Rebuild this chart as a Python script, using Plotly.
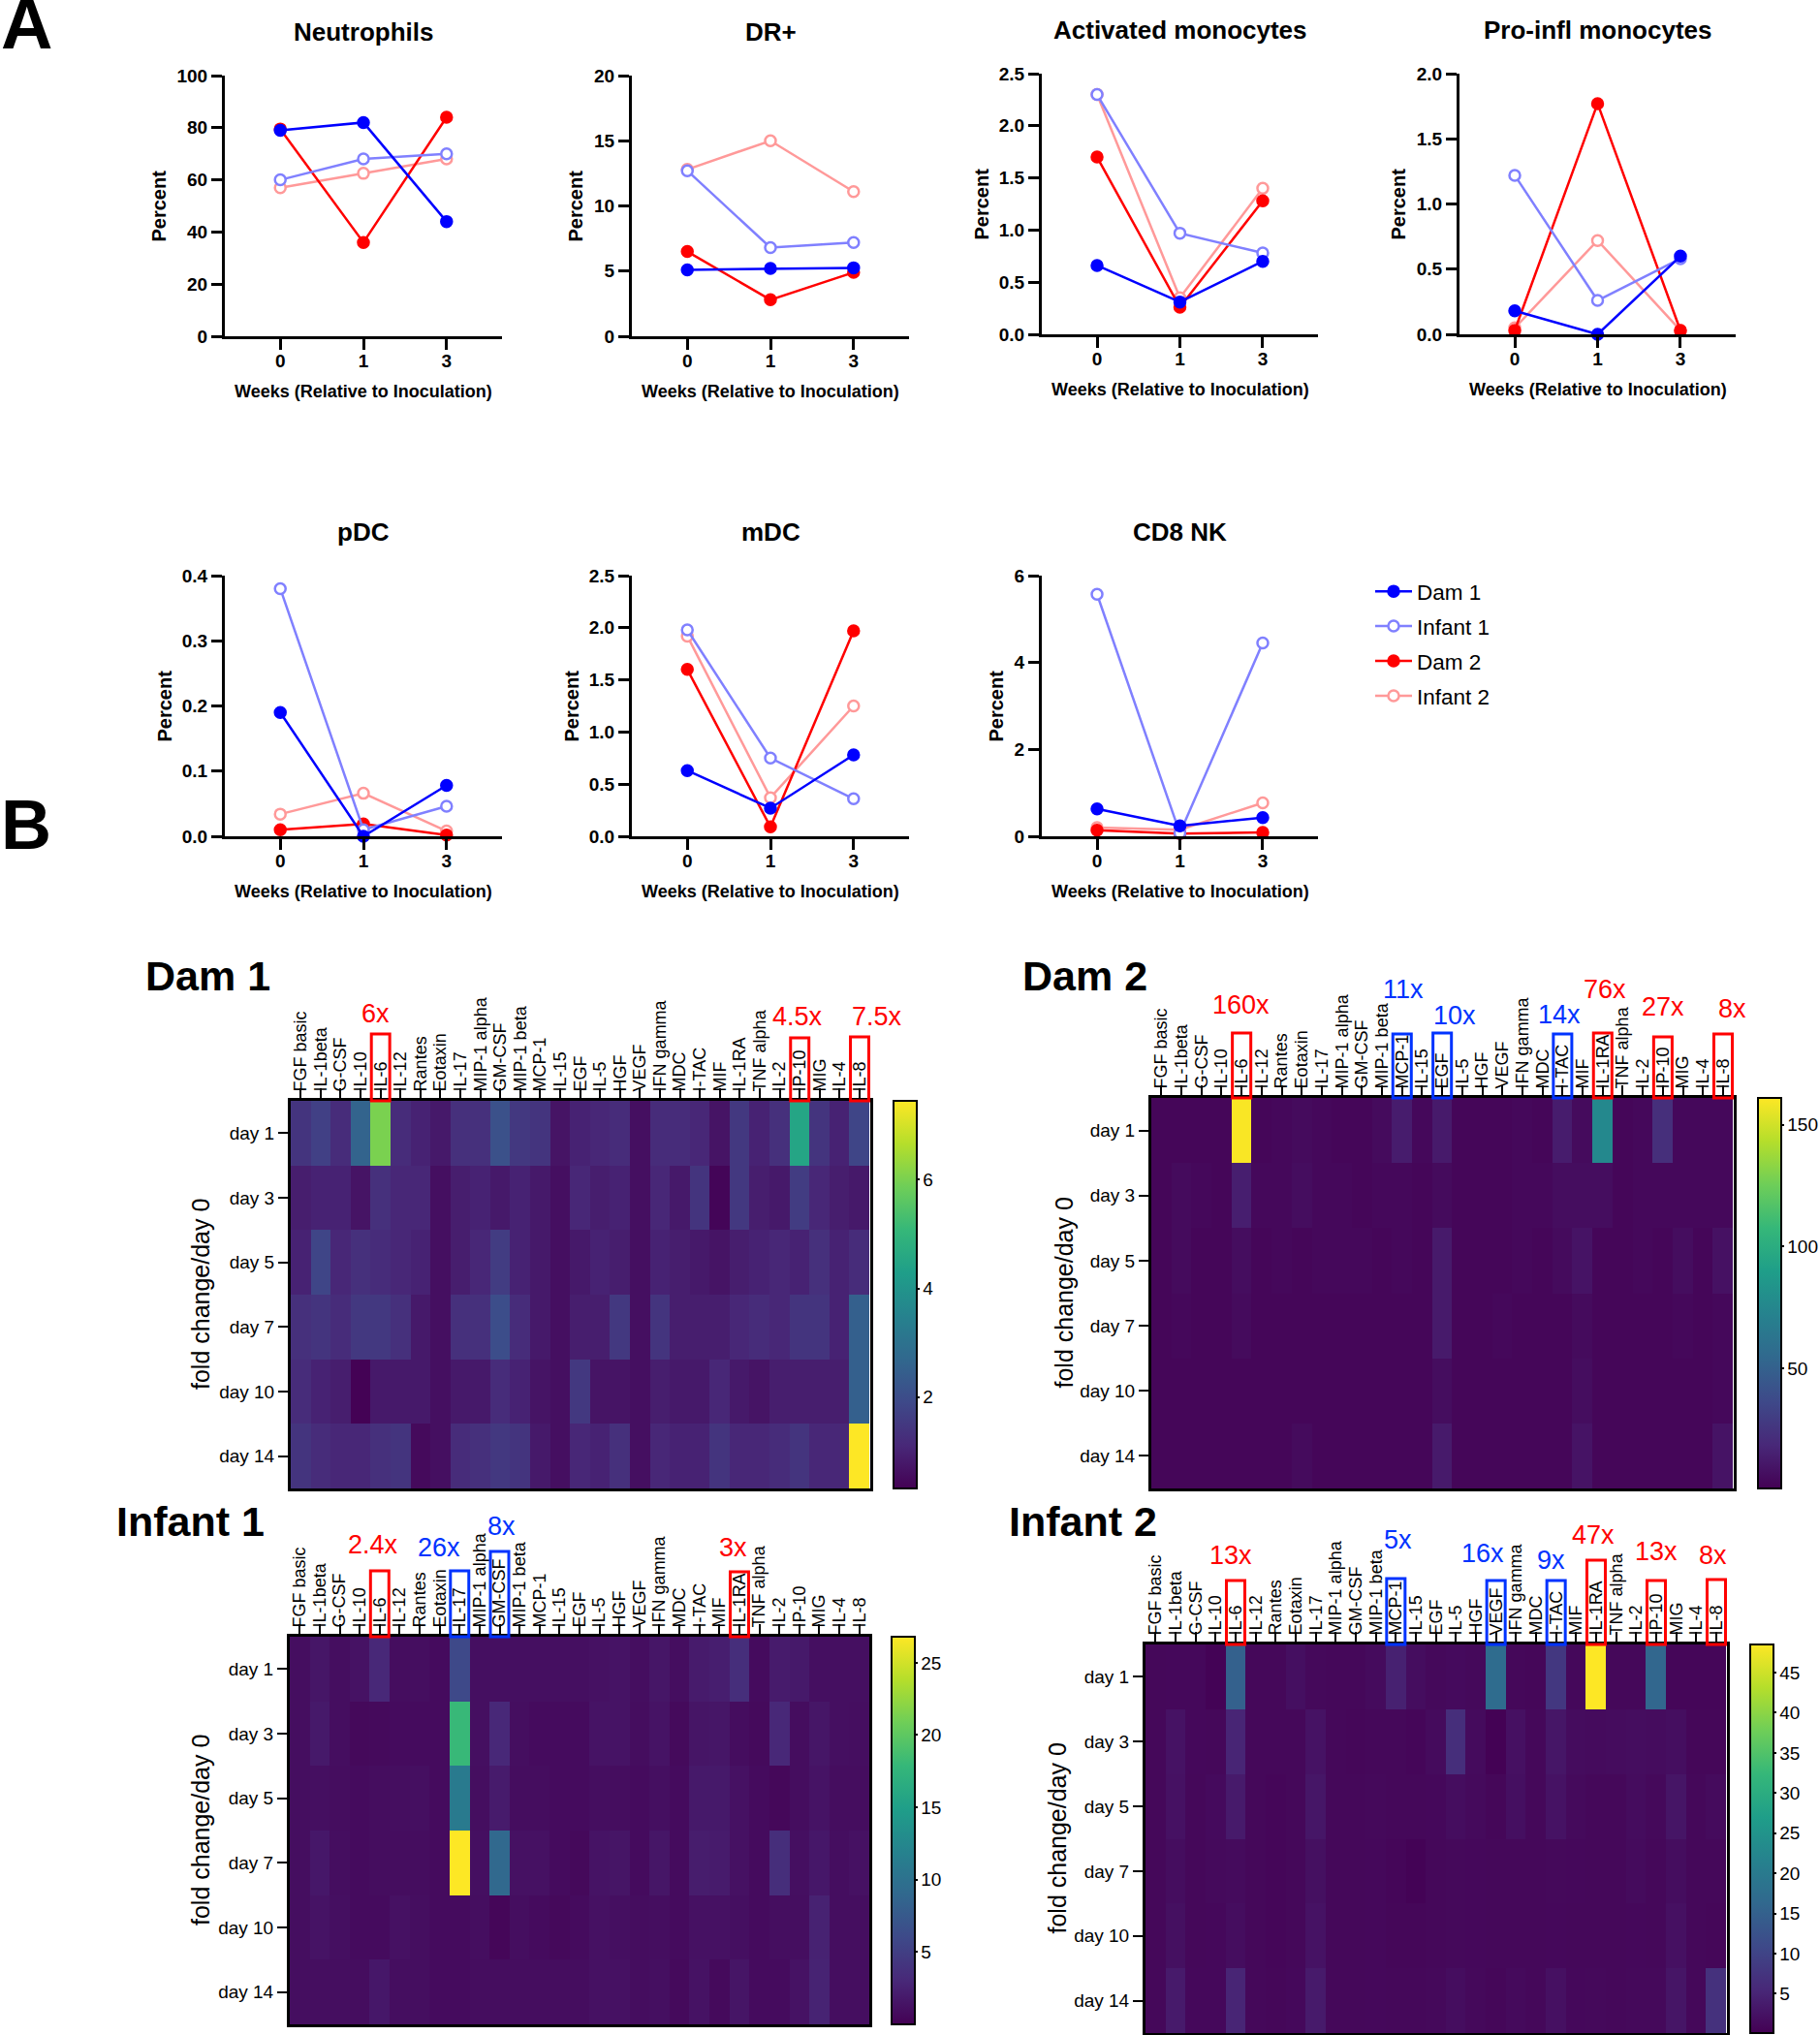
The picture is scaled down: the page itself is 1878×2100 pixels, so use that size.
import plotly.graph_objects as go

W, H = 1878, 2100
FONT = "Liberation Sans"

WEEKS = ["0", "1", "3"]
SERIES = ["Infant 2", "Dam 2", "Infant 1", "Dam 1"]  # drawn back to front
LEGEND_ORDER = ["Dam 1", "Infant 1", "Dam 2", "Infant 2"]
SERIES_COLORS = {"Dam 1": "#0000ff", "Infant 1": "#8080ff", "Dam 2": "#ff0000", "Infant 2": "#ff9999"}

neutrophils = {"Dam 1": [79, 82, 44], "Infant 1": [60, 68, 70], "Dam 2": [79.5, 36, 84], "Infant 2": [57, 62.5, 68]}
dr_plus = {"Dam 1": [5.1, 5.2, 5.25], "Infant 1": [12.7, 6.8, 7.2], "Dam 2": [6.5, 2.8, 4.9], "Infant 2": [12.8, 15, 11.1]}
activated_mono = {"Dam 1": [0.66, 0.31, 0.70], "Infant 1": [2.3, 0.97, 0.78], "Dam 2": [1.7, 0.26, 1.28], "Infant 2": [2.3, 0.35, 1.4]}
proinfl_mono = {"Dam 1": [0.18, 0.0, 0.6], "Infant 1": [1.22, 0.26, 0.58], "Dam 2": [0.03, 1.77, 0.03], "Infant 2": [0.05, 0.72, 0.03]}
pdc = {"Dam 1": [0.19, 0.0, 0.078], "Infant 1": [0.38, 0.01, 0.046], "Dam 2": [0.01, 0.019, 0.002], "Infant 2": [0.034, 0.066, 0.008]}
mdc = {"Dam 1": [0.63, 0.27, 0.78], "Infant 1": [1.98, 0.75, 0.36], "Dam 2": [1.6, 0.09, 1.97], "Infant 2": [1.92, 0.37, 1.25]}
cd8_nk = {"Dam 1": [0.63, 0.24, 0.43], "Infant 1": [5.57, 0.07, 4.45], "Dam 2": [0.14, 0.06, 0.09], "Infant 2": [0.2, 0.15, 0.77]}

CYTOKINES = ["FGF basic", "IL-1beta", "G-CSF", "IL-10", "IL-6", "IL-12", "Rantes", "Eotaxin", "IL-17",
             "MIP-1 alpha", "GM-CSF", "MIP-1 beta", "MCP-1", "IL-15", "EGF", "IL-5", "HGF", "VEGF",
             "IFN gamma", "MDC", "I-TAC", "MIF", "IL-1RA", "TNF alpha", "IL-2", "IP-10", "MIG", "IL-4", "IL-8"]
DAYS = ["day 1", "day 3", "day 5", "day 7", "day 10", "day 14"]

dam1_z = [
    [1.4, 1.7, 1.2, 2.6, 6.0, 1.2, 1.0, 0.8, 1.3, 1.3, 2.1, 1.5, 1.4, 0.7, 1.0, 1.1, 1.2, 0.6, 1.2, 1.2, 1.1, 0.7, 1.5, 1.0, 1.3, 4.5, 1.4, 1.0, 1.8],
    [0.9, 1.0, 1.0, 0.7, 1.3, 1.1, 1.1, 0.6, 0.9, 1.0, 0.8, 1.0, 0.8, 0.6, 1.1, 0.9, 1.0, 0.6, 1.1, 0.8, 1.4, 0.4, 1.5, 0.9, 0.8, 1.6, 1.1, 0.9, 0.8],
    [1.0, 1.8, 1.1, 1.3, 1.2, 1.1, 1.0, 0.6, 0.9, 1.1, 1.6, 1.0, 0.8, 0.6, 0.8, 1.0, 0.9, 0.6, 1.0, 0.9, 0.8, 0.7, 0.9, 1.0, 1.1, 1.0, 1.3, 1.0, 1.2],
    [1.3, 1.4, 1.2, 1.5, 1.5, 1.3, 0.8, 0.6, 1.3, 1.3, 2.0, 1.2, 0.8, 0.6, 0.9, 0.9, 1.5, 0.6, 1.4, 0.9, 0.9, 0.9, 1.1, 1.2, 1.1, 1.4, 1.4, 1.0, 2.5],
    [1.2, 1.0, 0.9, 0.35, 0.8, 0.8, 0.8, 0.6, 0.8, 0.8, 1.2, 1.0, 0.7, 0.6, 1.5, 0.7, 0.7, 0.6, 0.9, 0.8, 0.8, 1.1, 0.8, 0.7, 0.9, 0.9, 0.9, 0.9, 2.5],
    [1.4, 1.2, 1.1, 1.1, 1.3, 1.4, 0.5, 0.6, 1.2, 1.3, 1.5, 1.4, 0.8, 0.6, 1.1, 1.0, 1.3, 0.6, 1.1, 1.0, 1.0, 1.4, 1.1, 1.1, 1.2, 1.4, 1.1, 1.1, 7.45],
]
dam2_z = [
    [3, 3, 3, 3, 160, 3, 4, 5, 4, 3, 3, 5, 13, 4, 12, 3, 3, 3, 4, 3, 13, 5, 76, 3, 4, 22, 4, 4, 4],
    [3, 5, 4, 3, 14, 4, 4, 6, 4, 4, 3, 4, 4, 3, 5, 3, 3, 3, 4, 4, 6, 6, 6, 3, 4, 4, 4, 4, 4],
    [3, 5, 3, 3, 6, 3, 4, 3, 4, 4, 4, 3, 4, 3, 12, 3, 3, 3, 4, 3, 5, 9, 3, 3, 4, 3, 6, 3, 8],
    [3, 4, 3, 3, 5, 3, 3, 3, 3, 3, 3, 3, 3, 3, 12, 3, 3, 4, 3, 3, 3, 5, 3, 3, 3, 3, 4, 3, 4],
    [3, 3, 3, 3, 3, 3, 3, 3, 3, 3, 3, 3, 3, 3, 6, 3, 3, 3, 3, 3, 3, 6, 3, 3, 3, 3, 3, 3, 4],
    [3, 3, 3, 3, 3, 3, 3, 5, 3, 3, 3, 3, 3, 3, 12, 3, 3, 3, 3, 3, 3, 9, 3, 3, 3, 3, 3, 3, 9],
]
infant1_z = [
    [1, 1.6, 1, 1.3, 3, 0.9, 1, 0.8, 6, 1.1, 1.1, 1.1, 1.1, 1.1, 1.1, 1.2, 1.4, 1, 1.6, 1, 2, 2.2, 3.5, 0.8, 2, 1.8, 1.1, 1.1, 1.1],
    [1, 1.8, 1, 0.6, 0.7, 0.8, 0.8, 0.8, 18, 1.1, 3, 1, 0.8, 0.8, 0.8, 1.4, 1.4, 0.9, 1.4, 0.7, 1.5, 1.6, 0.9, 0.7, 3, 0.9, 1.6, 1.1, 1],
    [1, 1.1, 0.9, 0.8, 0.9, 1, 1.1, 0.8, 11, 1, 2, 0.9, 0.9, 0.8, 0.8, 1, 0.9, 0.8, 1.1, 0.8, 1.8, 1.8, 1.2, 0.8, 0.5, 0.9, 1.4, 0.9, 0.9],
    [1, 1.7, 1, 0.8, 0.9, 0.9, 0.9, 0.8, 26.8, 1.1, 9, 1.2, 1.2, 0.8, 0.6, 1.4, 1.5, 0.8, 1.6, 0.8, 2.1, 2, 1.2, 0.8, 3.5, 1.1, 1.7, 1, 1.2],
    [1, 1.4, 1.1, 0.8, 0.8, 1.2, 1, 0.8, 0.8, 1, 0.4, 1, 0.8, 0.6, 0.8, 1.2, 1.1, 0.9, 1, 0.8, 1.2, 1.2, 1.1, 0.8, 1, 1, 2.5, 1, 1],
    [1, 1, 1, 0.9, 1.7, 1, 1, 0.8, 0.8, 0.9, 0.9, 0.9, 0.9, 0.9, 0.9, 1.2, 1.2, 0.9, 1.1, 0.7, 1.3, 0.7, 1.5, 0.8, 0.8, 1.3, 2.6, 1, 1],
]
infant2_z = [
    [1, 1.1, 1.1, 0.4, 15, 1, 1, 2, 1.2, 1, 1, 1.5, 4.5, 1.8, 1.2, 1.4, 1.2, 17, 1, 0.9, 8, 1.1, 48.5, 1, 1, 16, 0.8, 0.8, 0.8],
    [1, 2.5, 1.1, 1, 5, 1, 1, 1, 2.5, 1, 0.9, 1, 1, 0.8, 1.5, 6.5, 1.5, 0.3, 2.2, 1, 3, 1.6, 1.5, 1.6, 1.8, 1.6, 1.9, 0.9, 0.9],
    [1, 2.3, 1, 1.4, 3.5, 1, 0.8, 1, 3, 1, 1, 1.2, 1, 1, 1.1, 1.8, 1.3, 0.9, 2, 1, 2.5, 1.3, 1, 1, 1.6, 1.2, 2.8, 1, 1.5],
    [1, 1.8, 1, 1.3, 1.5, 1, 0.8, 1, 2.1, 1, 1, 1.1, 0.8, 0.4, 1, 1.2, 1.1, 1, 1, 1, 1.2, 1.1, 1, 1, 1.5, 1, 1.8, 1, 1],
    [1, 2.1, 1, 1.1, 1.8, 1, 0.8, 1, 2.5, 1, 1, 1.1, 0.9, 0.9, 1, 1.2, 1.1, 1, 1, 1, 1.1, 1, 1, 1, 1.1, 1, 2.2, 1, 0.9],
    [1, 3.6, 1.1, 1.1, 5, 1, 0.9, 1.1, 3.6, 1, 1, 1.1, 1, 1, 1.2, 1.8, 1.2, 0.9, 1.3, 1, 2.2, 1.1, 1.2, 1, 1.2, 1.2, 2.8, 1, 7],
]

# title, data, y max, y ticks, tick format, axis box in px (left, right, top, bottom), title y, Percent x
LINE_PANELS = [
    ("Neutrophils", neutrophils, 100, [0, 20, 40, 60, 80, 100], "d", (232, 518, 78, 347), 33, 164),
    ("DR+", dr_plus, 20, [0, 5, 10, 15, 20], "d", (652, 938, 78, 347), 33, 594),
    ("Activated monocytes", activated_mono, 2.5, [0, 0.5, 1, 1.5, 2, 2.5], ".1f", (1075, 1360, 76, 345), 31, 1012),
    ("Pro-infl monocytes", proinfl_mono, 2, [0, 0.5, 1, 1.5, 2], ".1f", (1506, 1791, 76, 345), 31, 1442),
    ("pDC", pdc, 0.4, [0, 0.1, 0.2, 0.3, 0.4], ".1f", (232, 518, 594, 863), 549, 170),
    ("mDC", mdc, 2.5, [0, 0.5, 1, 1.5, 2, 2.5], ".1f", (652, 938, 594, 863), 549, 590),
    ("CD8 NK", cd8_nk, 6, [0, 2, 4, 6], "d", (1075, 1360, 594, 863), 549, 1028),
]

# title, z, min, max, colorbar ticks, plot box px, colorbar left px, title pos, fold label x
HEAT_PANELS = [
    ("Dam 1", dam1_z, 0.32, 7.45, [2, 4, 6], (300, 898, 1136, 1536), 922, (214, 1007), 207),
    ("Dam 2", dam2_z, 0.6, 161, [50, 100, 150], (1188, 1789, 1133, 1536), 1814, (1119, 1007), 1097),
    ("Infant 1", infant1_z, 0, 26.8, [5, 10, 15, 20, 25], (299, 897, 1689, 2089), 920, (196, 1570), 207),
    ("Infant 2", infant2_z, 0.1, 48.5, [5, 10, 15, 20, 25, 30, 35, 40, 45], (1182, 1782, 1697, 2098), 1806, (1117, 1570), 1090),
]

RED, BLUE = "#ff0000", "#0033ff"
# cytokine, colour, box top px, label, label x px, label y px
CALLOUTS = {
    "Dam 1": [("IL-6", RED, 1067, "6x", 387, 1046), ("IP-10", RED, 1071, "4.5x", 823, 1049), ("IL-8", RED, 1070, "7.5x", 905, 1049)],
    "Dam 2": [("IL-6", RED, 1066, "160x", 1280, 1037), ("MCP-1", BLUE, 1067, "11x", 1448, 1021), ("EGF", BLUE, 1066, "10x", 1501, 1048),
              ("I-TAC", BLUE, 1067, "14x", 1609, 1047), ("IL-1RA", RED, 1066, "76x", 1656, 1021), ("IP-10", RED, 1070, "27x", 1716, 1039),
              ("IL-8", RED, 1067, "8x", 1787, 1041)],
    "Infant 1": [("IL-6", RED, 1621, "2.4x", 385, 1594), ("IL-17", BLUE, 1621, "26x", 453, 1597), ("GM-CSF", BLUE, 1601, "8x", 517, 1575),
                 ("IL-1RA", RED, 1622, "3x", 756, 1597)],
    "Infant 2": [("IL-6", RED, 1631, "13x", 1270, 1605), ("MCP-1", BLUE, 1629, "5x", 1442, 1589), ("VEGF", BLUE, 1631, "16x", 1530, 1603),
                 ("I-TAC", BLUE, 1631, "9x", 1600, 1610), ("IL-1RA", RED, 1610, "47x", 1644, 1584), ("IP-10", RED, 1631, "13x", 1709, 1601),
                 ("IL-8", RED, 1630, "8x", 1767, 1605)],
}


def fx(px):
    return px / W


def fy(px):
    return 1 - px / H


def text(x, y, s, size, bold=False, color="black", angle=0, xref="paper"):
    return dict(x=x, y=fy(y), xref=xref, yref="paper", text=s, showarrow=False, textangle=angle,
                xanchor="center", yanchor="middle",
                font=dict(family=FONT, size=size, color=color, weight=700 if bold else 400))


fig = go.Figure()
annotations = []
shapes = []
layout = {}
n = 0

for title, data, ymax, yticks, fmt, (l, r, t, b), title_y, percent_x in LINE_PANELS:
    n += 1
    xa, ya = f"x{n}", f"y{n}"
    for name in SERIES:
        filled = name.startswith("Dam")
        c = SERIES_COLORS[name]
        fig.add_trace(go.Scatter(
            x=WEEKS, y=data[name], xaxis=xa, yaxis=ya, mode="lines+markers", name=name,
            legendgroup=name, legendrank=LEGEND_ORDER.index(name) + 1,
            showlegend=title == "CD8 NK", cliponaxis=False,
            line=dict(color=c, width=2.5),
            marker=dict(size=11, color=c if filled else "white", line=dict(color=c, width=2.5)),
        ))
    layout[f"xaxis{n}"] = dict(domain=[fx(l), fx(r)], anchor=ya, type="category", range=[-0.667, 2.667],
                               showline=True, linecolor="black", linewidth=3, showgrid=False, zeroline=False,
                               ticks="outside", ticklen=11, tickwidth=2.5, tickcolor="black", ticklabelstandoff=-5,
                               tickfont=dict(family=FONT, size=19, weight=700))
    layout[f"yaxis{n}"] = dict(domain=[fy(b), fy(t)], anchor=xa, range=[0, ymax], tickvals=yticks, tickformat=fmt,
                               showline=True, linecolor="black", linewidth=3, showgrid=False, zeroline=False,
                               ticks="outside", ticklen=11, tickwidth=2.5, tickcolor="black",
                               tickfont=dict(family=FONT, size=19, weight=700))
    annotations.append(text(fx((l + r) / 2), title_y, title, 26, bold=True))
    annotations.append(text(fx((l + r) / 2), b + 57, "Weeks (Relative to Inoculation)", 18, bold=True))
    annotations.append(text(fx(percent_x), (t + b) / 2, "Percent", 20, bold=True, angle=-90))

for title, z, zmin, zmax, cticks, (l, r, t, b), cb_left, (tx, ty), fold_x in HEAT_PANELS:
    n += 1
    xa, ya = f"x{n}", f"y{n}"
    fig.add_trace(go.Heatmap(
        z=z, x=CYTOKINES, y=DAYS, xaxis=xa, yaxis=ya, colorscale="Viridis", zmin=zmin, zmax=zmax,
        colorbar=dict(x=fx(cb_left), xanchor="left", xpad=0, ypad=0, y=fy(b), yanchor="bottom", len=(b - t) / H,
                      thickness=24, outlinecolor="black", outlinewidth=2, tickvals=cticks,
                      ticks="outside", ticklen=2, tickwidth=2, tickcolor="black",
                      tickfont=dict(family=FONT, size=19)),
    ))
    layout[f"xaxis{n}"] = dict(domain=[fx(l), fx(r)], anchor=ya, side="top", type="category", tickangle=-90,
                               tickmode="array", tickvals=CYTOKINES,
                               showline=True, mirror=True, linecolor="black", linewidth=3, showgrid=False,
                               ticks="outside", ticklen=10, tickwidth=2, tickcolor="black", ticklabelstandoff=-7,
                               tickfont=dict(family=FONT, size=18))
    layout[f"yaxis{n}"] = dict(domain=[fy(b), fy(t)], anchor=xa, type="category", autorange="reversed",
                               showline=True, mirror=True, linecolor="black", linewidth=3, showgrid=False,
                               ticks="outside", ticklen=10, tickwidth=2, tickcolor="black",
                               tickfont=dict(family=FONT, size=19))
    annotations.append(text(fx(tx), ty, title, 43, bold=True))
    annotations.append(text(fx(fold_x), (t + b) / 2, "fold change/day 0", 25, angle=-90))
    for cyto, color, top, label, lx, ly in CALLOUTS[title]:
        i = CYTOKINES.index(cyto)
        shapes.append(dict(type="rect", xref=xa, yref="paper", x0=i - 0.46, x1=i + 0.46, y0=fy(t), y1=fy(top),
                           line=dict(color=color, width=3), fillcolor="rgba(0,0,0,0)"))
        annotations.append(text(fx(lx), ly, label, 27, color=color))

annotations.append(text(fx(27), 25, "A", 74, bold=True))
annotations.append(text(fx(27), 851, "B", 72, bold=True))

fig.update_layout(
    width=W, height=H, margin=dict(l=0, r=0, t=0, b=0, autoexpand=False), paper_bgcolor="white", plot_bgcolor="white",
    font=dict(family=FONT, color="black"), annotations=annotations, shapes=shapes,
    legend=dict(x=fx(1414), y=fy(589), xanchor="left", yanchor="top", traceorder="grouped", itemwidth=38,
                tracegroupgap=3.7, font=dict(family=FONT, size=22.5), bgcolor="rgba(0,0,0,0)"),
    **layout,
)

fig.write_html("out.html", config={"displayModeBar": False}, post_script="document.body.style.margin='0';")
